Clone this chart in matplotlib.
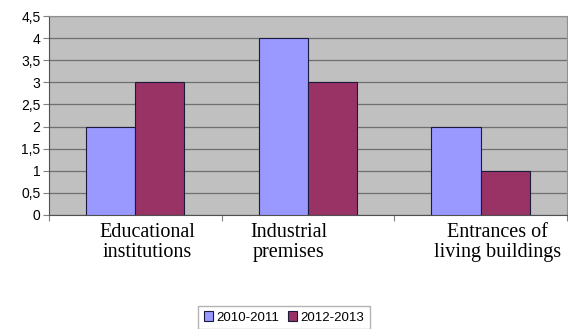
import numpy as np
import matplotlib.pyplot as plt
from matplotlib.ticker import FuncFormatter

# Data
categories = ["Educational\ninstitutions", "Industrial\npremises", "Entrances of\nliving buildings"]
values_2010 = [2, 4, 2]
values_2012 = [3, 3, 1]
series_names = ["2010-2011", "2012-2013"]

x = np.arange(len(categories))
w = 0.285

fig = plt.figure(figsize=(5.68, 3.29), dpi=100)
ax = fig.add_axes([0.086, 0.347, 0.912, 0.604])
ax.set_facecolor('#c0c0c0')

ax.bar(x - w/2, values_2010, w, color='#9999ff', edgecolor='#1a1a3a', linewidth=0.8,
       label=series_names[0], zorder=3)
ax.bar(x + w/2, values_2012, w, color='#993366', edgecolor='#1a1a3a', linewidth=0.8,
       label=series_names[1], zorder=3)

ax.set_xlim(-0.5, 2.5)
ax.set_ylim(0, 4.5)
ax.set_yticks(np.arange(0, 4.51, 0.5))
ax.yaxis.set_major_formatter(FuncFormatter(lambda v, p: f"{v:g}".replace('.', ',')))
ax.tick_params(axis='y', labelsize=10, length=4, color='#808080', pad=2)
for t in ax.get_yticklabels():
    t.set_family('Liberation Sans')
ax.grid(axis='y', color='#707070', linewidth=0.9, zorder=1)

# category boundaries as tick marks, labels placed by hand
ax.set_xticks(np.arange(-0.5, 2.6, 1.0))
ax.set_xticklabels([])
ax.tick_params(axis='x', length=4, color='#808080')

label_x = [0.07, 0.89, 2.10]
for lx, name in zip(label_x, categories):
    ax.text(lx, -0.19, name, ha='center', va='top', fontsize=14.5,
            family='Liberation Serif', linespacing=1.05)

for s in ['top', 'right']:
    ax.spines[s].set_color('#909090')
ax.spines['left'].set_color('#505050')
ax.spines['bottom'].set_color('#505050')

leg = fig.legend(loc='lower center', bbox_to_anchor=(0.5, -0.02), ncol=2, fontsize=9,
                 frameon=True, fancybox=False, edgecolor='#a0a0a0', handlelength=0.7,
                 handleheight=0.7, handletextpad=0.3, columnspacing=0.6, borderpad=0.4,
                 prop={'family': 'Liberation Sans', 'size': 9.5})

plt.savefig('out.png', dpi=100)
